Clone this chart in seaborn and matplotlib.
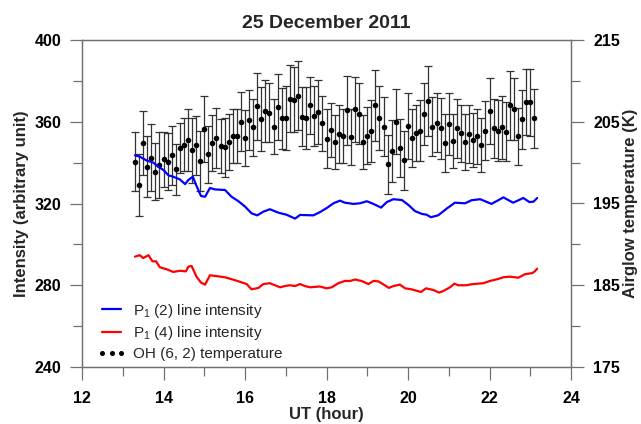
import numpy as np
import matplotlib
matplotlib.use('Agg')
import matplotlib.pyplot as plt
from matplotlib.lines import Line2D
from matplotlib.ticker import MultipleLocator
import seaborn as sns

# P1(2) line intensity (left axis)
ut_p12 = [13.30, 13.42, 13.59, 13.75, 13.87, 14.00, 14.12, 14.24, 14.40, 14.53,
          14.61, 14.72, 14.81, 14.92, 15.02, 15.14, 15.26, 15.51, 15.67, 15.84,
          16.00, 16.16, 16.30, 16.45, 16.61, 16.82, 17.02, 17.23, 17.35, 17.68,
          17.84, 18.00, 18.17, 18.33, 18.45, 18.66, 18.82, 18.99, 19.15, 19.34,
          19.48, 19.64, 19.85, 20.01, 20.17, 20.34, 20.46, 20.56, 20.74, 20.95,
          21.15, 21.40, 21.56, 21.77, 22.05, 22.34, 22.58, 22.83, 22.98, 23.08, 23.17]
int_p12 = [343.6, 342.9, 341.0, 340.0, 338.0, 336.4, 333.8, 333.1, 331.8, 329.5,
           331.5, 333.1, 328.6, 323.7, 323.3, 327.6, 326.9, 326.6, 323.3, 321.1,
           318.5, 315.2, 314.2, 316.0, 317.2, 315.5, 314.5, 312.6, 314.4, 314.2,
           315.8, 317.7, 320.1, 321.4, 320.4, 319.8, 320.1, 321.1, 319.8, 318.0,
           320.7, 322.1, 321.7, 319.3, 316.3, 314.9, 314.5, 313.3, 314.2, 317.5,
           320.4, 320.1, 321.6, 322.1, 319.8, 323.0, 320.4, 322.7, 320.7, 320.9, 322.7]

# P1(4) line intensity (left axis)
ut_p14 = [13.30, 13.42, 13.50, 13.63, 13.73, 13.82, 13.91, 14.08, 14.24, 14.40,
          14.55, 14.61, 14.69, 14.81, 14.92, 15.02, 15.14, 15.51, 15.80, 16.04,
          16.16, 16.33, 16.45, 16.61, 16.86, 16.98, 17.10, 17.23, 17.35, 17.47,
          17.60, 17.84, 18.00, 18.13, 18.29, 18.45, 18.58, 18.70, 18.86, 19.03,
          19.15, 19.27, 19.39, 19.53, 19.64, 19.80, 19.93, 20.09, 20.32, 20.44,
          20.62, 20.76, 20.87, 21.03, 21.14, 21.23, 21.44, 21.56, 21.85, 22.01,
          22.18, 22.34, 22.50, 22.71, 22.87, 23.04, 23.10, 23.17]
int_p14 = [294.0, 294.7, 293.3, 294.7, 291.7, 291.7, 288.8, 287.8, 286.5, 287.1,
           286.8, 289.1, 289.4, 284.2, 281.3, 280.3, 284.9, 283.9, 282.2, 280.6,
           278.0, 278.7, 280.6, 281.0, 279.0, 279.6, 280.0, 279.6, 280.6, 279.6,
           279.0, 279.4, 278.5, 279.0, 281.0, 282.1, 282.1, 282.8, 282.1, 280.6,
           282.1, 281.9, 280.5, 278.7, 279.6, 280.3, 278.5, 278.0, 276.7, 278.5,
           277.7, 276.4, 277.2, 279.0, 280.8, 280.0, 280.0, 280.5, 281.0, 282.1,
           282.9, 283.9, 284.2, 283.7, 285.4, 285.9, 286.6, 288.1]

# OH(6,2) rotational temperature (right axis), one point every 6 min
ut_temp = np.round(np.arange(13.3, 23.15, 0.1), 1)
temp_oh = [200.1, 197.3, 202.4, 199.5, 200.6, 198.9, 199.7, 200.4, 200.1, 200.9,
           199.2, 201.8, 202.2, 202.8, 201.5, 202.1, 200.2, 204.1, 201.0, 202.4,
           203.0, 202.0, 201.9, 202.5, 203.3, 203.3, 205.0, 203.0, 205.2, 204.3,
           206.9, 205.3, 206.3, 206.1, 204.4, 206.8, 205.4, 205.5, 207.8, 207.7,
           208.2, 205.6, 205.5, 207.0, 205.7, 206.2, 204.8, 202.9, 204.0, 202.5,
           203.5, 203.3, 206.4, 203.1, 206.5, 206.0, 202.5, 203.3, 203.9, 207.0,
           205.5, 204.4, 199.8, 201.4, 205.0, 201.8, 200.3, 204.5, 203.0, 203.6,
           203.9, 205.9, 207.5, 204.4, 204.9, 204.2, 202.4, 204.7, 202.7, 204.2,
           203.6, 202.5, 203.5, 202.8, 203.2, 202.1, 203.9, 206.3, 204.2, 203.9,
           204.3, 203.8, 207.0, 206.6, 203.2, 205.3, 207.4, 207.4, 205.4]
temp_err = [3.6, 3.8, 3.9, 3.7, 4.1, 3.5, 4.0, 3.4, 3.5, 3.6,
            3.1, 3.1, 3.2, 3.8, 4.0, 3.6, 3.7, 4.0, 3.5, 3.4,
            3.7, 3.3, 3.6, 3.4, 3.3, 3.3, 3.6, 3.4, 3.7, 3.5,
            4.1, 3.9, 3.8, 3.6, 3.4, 4.0, 3.7, 3.9, 4.1, 4.0,
            4.2, 3.6, 3.8, 3.5, 3.7, 3.9, 3.4, 3.6, 3.3, 3.3,
            3.5, 3.3, 4.2, 3.4, 4.0, 3.7, 3.3, 3.5, 3.8, 4.3,
            3.9, 3.6, 3.6, 3.8, 4.0, 3.5, 3.6, 4.0, 3.5, 3.4,
            3.7, 3.8, 4.3, 3.6, 3.6, 3.7, 3.5, 3.8, 3.3, 3.6,
            3.5, 3.4, 3.6, 3.3, 3.4, 3.3, 3.6, 4.0, 3.6, 3.7,
            3.8, 3.6, 4.2, 3.8, 3.5, 3.6, 4.0, 4.1, 3.6]

sns.set_style('ticks')
plt.rcParams['font.family'] = ['Liberation Sans', 'DejaVu Sans']
plt.rcParams['font.weight'] = 'bold'
plt.rcParams['mathtext.fontset'] = 'custom'
plt.rcParams['mathtext.rm'] = 'Liberation Sans'
plt.rcParams['mathtext.default'] = 'regular'

spine_col = '#707070'

fig = plt.figure(figsize=(6.41, 4.24), dpi=100)
ax = fig.add_axes([82/641, 1 - 367/424, 489/641, 327/424])
ax2 = ax.twinx()
ax.set_zorder(ax2.get_zorder() + 1)
ax.patch.set_visible(False)

# temperature with error bars
ax2.errorbar(ut_temp, temp_oh, yerr=temp_err, fmt='none', ecolor='#333333',
             elinewidth=0.9, capsize=3.2, capthick=0.9)
sns.scatterplot(x=ut_temp, y=temp_oh, ax=ax2, color='black', s=16,
                linewidth=0, zorder=3, legend=False)

# intensities
sns.lineplot(x=ut_p12, y=int_p12, ax=ax, color='blue', lw=1.6,
             estimator=None, sort=False)
sns.lineplot(x=ut_p14, y=int_p14, ax=ax, color='red', lw=1.6,
             estimator=None, sort=False)

ax.set_xlim(12, 24)
ax.set_ylim(240, 400)
ax2.set_ylim(175, 215)
ax.set_xticks(range(12, 25, 2))
ax.xaxis.set_minor_locator(MultipleLocator(1))
ax.set_yticks(range(240, 401, 40))
ax.yaxis.set_minor_locator(MultipleLocator(20))
ax2.set_yticks(range(175, 216, 10))
ax2.yaxis.set_minor_locator(MultipleLocator(5))

for a in (ax, ax2):
    for s in a.spines.values():
        s.set_color(spine_col)
        s.set_linewidth(0.9)
    a.tick_params(which='both', direction='out', color=spine_col, width=0.9,
                  labelsize=11.5, labelcolor='black')
    a.tick_params(which='major', length=9)
    a.tick_params(which='minor', length=6.5)
ax.tick_params(axis='x', pad=8)
ax.tick_params(axis='y', pad=6)
ax2.tick_params(axis='y', pad=7)

ax.set_xlabel('UT (hour)', fontsize=12, fontweight='bold', labelpad=1)
ax.set_ylabel('Intensity (arbitrary unit)', fontsize=12, fontweight='bold', labelpad=4)
ax2.set_ylabel('Airglow temperature (K)', fontsize=12, fontweight='bold', labelpad=2)
ax.set_title('25 December 2011', fontsize=14, fontweight='bold', pad=9)

h1 = Line2D([], [], color='blue', lw=1.6)
h2 = Line2D([], [], color='red', lw=1.6)
h3 = Line2D([], [], ls='none', marker='o', ms=2.6, color='black')
ax.legend([h1, h2, h3],
          ['P$_1$ (2) line intensity', 'P$_1$ (4) line intensity',
           'OH (6, 2) temperature'],
          loc='lower left', bbox_to_anchor=(0.02, 0.0), borderaxespad=0,
          frameon=False, numpoints=3, handlelength=1.8, handletextpad=0.5,
          labelspacing=0.3, prop={'size': 11, 'weight': 'normal'})

fig.savefig('out.png', dpi=100)
